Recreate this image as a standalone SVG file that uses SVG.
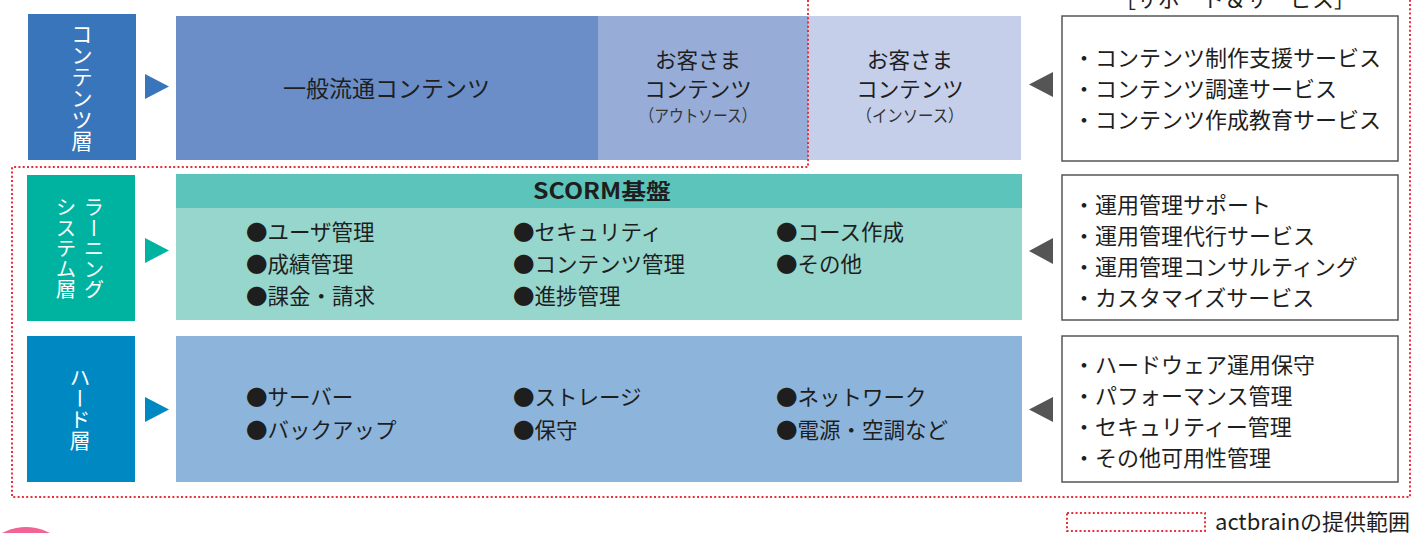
<svg xmlns="http://www.w3.org/2000/svg" width="1415" height="533" viewBox="0 0 1415 533">
<style>
text{font-family:"Noto Sans CJK JP","Noto Sans",sans-serif;fill:#1e1e1e;}
.lbl{fill:#fff;writing-mode:vertical-rl;}
.item{font-size:21.5px;}
.svc{font-size:22px;}
.box{fill:#fff;stroke:#555;stroke-width:1.5;}
.larr{fill:#555;}
.range{fill:none;stroke:#e8303a;stroke-width:2;stroke-dasharray:2 2.3;}
</style>
<rect width="1415" height="533" fill="#fff"/>

<g id="contents-label">
<rect x="28" y="14" width="108" height="146" fill="#3875bb"/>
<text class="lbl" x="82" y="23" font-size="21.5">コンテンツ層</text>
</g>
<g id="learning-label">
<rect x="27" y="175" width="108" height="146" fill="#00b3a1"/>
<text class="lbl" x="94" y="197" font-size="20.5">ラーニング</text>
<text class="lbl" x="66" y="197" font-size="20.5">システム層</text>
</g>
<g id="hard-label">
<rect x="27" y="336" width="108" height="146" fill="#0088c2"/>
<text class="lbl" x="80" y="367" font-size="21">ハード層</text>
</g>

<g id="contents-main">
<rect x="176" y="16" width="422" height="144" fill="#6b8ec8"/>
<rect x="598" y="16" width="210" height="144" fill="#98acd8"/>
<rect x="808" y="16" width="213" height="144" fill="#c5cfea"/>
<text x="386.5" y="96.5" font-size="23" text-anchor="middle">一般流通コンテンツ</text>
<text x="698" y="68" font-size="21.5" text-anchor="middle">お客さま</text>
<text x="698" y="96.5" font-size="21.5" text-anchor="middle">コンテンツ</text>
<text x="698" y="122" font-size="17" text-anchor="middle" textLength="117" lengthAdjust="spacingAndGlyphs" style="fill:#333">（アウトソース）</text>
<text x="910" y="68" font-size="21.5" text-anchor="middle">お客さま</text>
<text x="910" y="96.5" font-size="21.5" text-anchor="middle">コンテンツ</text>
<text x="910" y="122" font-size="17" text-anchor="middle" textLength="107" lengthAdjust="spacingAndGlyphs" style="fill:#333">（インソース）</text>
</g>

<g id="learning-main">
<rect x="176" y="174" width="846" height="146" fill="#97d6cd"/>
<rect x="176" y="174" width="846" height="34" fill="#5cc4ba"/>
<text x="602" y="199" font-size="22" font-weight="bold" text-anchor="middle" textLength="138" lengthAdjust="spacingAndGlyphs">SCORM基盤</text>
<text class="item" x="246" y="240">●ユーザ管理</text>
<text class="item" x="246" y="272">●成績管理</text>
<text class="item" x="246" y="304">●課金・請求</text>
<text class="item" x="513" y="240">●セキュリティ</text>
<text class="item" x="513" y="272">●コンテンツ管理</text>
<text class="item" x="513" y="304">●進捗管理</text>
<text class="item" x="776" y="240">●コース作成</text>
<text class="item" x="776" y="272">●その他</text>
</g>

<g id="hard-main">
<rect x="176" y="336" width="846" height="146" fill="#8db5dc"/>
<text class="item" x="246" y="405">●サーバー</text>
<text class="item" x="246" y="438">●バックアップ</text>
<text class="item" x="513" y="405">●ストレージ</text>
<text class="item" x="513" y="438">●保守</text>
<text class="item" x="776" y="405">●ネットワーク</text>
<text class="item" x="776" y="438">●電源・空調など</text>
</g>

<g id="support-title">
<text x="1235" y="7" font-size="22" text-anchor="middle">［サポート＆サービス］</text>
</g>
<g id="support-contents">
<rect class="box" x="1062" y="16" width="336" height="145"/>
<text class="svc" x="1073" y="65.5">・コンテンツ制作支援サービス</text>
<text class="svc" x="1073" y="96.5">・コンテンツ調達サービス</text>
<text class="svc" x="1073" y="127.5">・コンテンツ作成教育サービス</text>
</g>
<g id="support-learning">
<rect class="box" x="1062" y="175" width="336" height="145"/>
<text class="svc" x="1073" y="212.5">・運用管理サポート</text>
<text class="svc" x="1073" y="243.5">・運用管理代行サービス</text>
<text class="svc" x="1073" y="274.5">・運用管理コンサルティング</text>
<text class="svc" x="1073" y="305.5">・カスタマイズサービス</text>
</g>
<g id="support-hard">
<rect class="box" x="1062" y="336" width="336" height="146"/>
<text class="svc" x="1073" y="372.5">・ハードウェア運用保守</text>
<text class="svc" x="1073" y="403.5">・パフォーマンス管理</text>
<text class="svc" x="1073" y="434.5">・セキュリティー管理</text>
<text class="svc" x="1073" y="465.5">・その他可用性管理</text>
</g>

<g id="connectors">
<polygon points="145,74 169,86.5 145,99" fill="#3875bb"/>
<polygon points="145,238 169,250.5 145,263" fill="#00b3a1"/>
<polygon points="145,397 169,409.5 145,422" fill="#0088c2"/>
<polygon class="larr" points="1053,72 1029,84.5 1053,97"/>
<polygon class="larr" points="1053,238 1029,251 1053,264"/>
<polygon class="larr" points="1053,397 1029,409.5 1053,422"/>
</g>

<g id="range">
<path class="range" d="M808 0 V167 H12 V497 H1410 V0"/>
</g>

<g id="legend">
<rect class="range" x="1067" y="513" width="138" height="18"/>
<text x="1215" y="529.5" font-size="22">actbrainの提供範囲</text>
</g>

<circle cx="26" cy="578" r="51" fill="#f06496"/>
</svg>
